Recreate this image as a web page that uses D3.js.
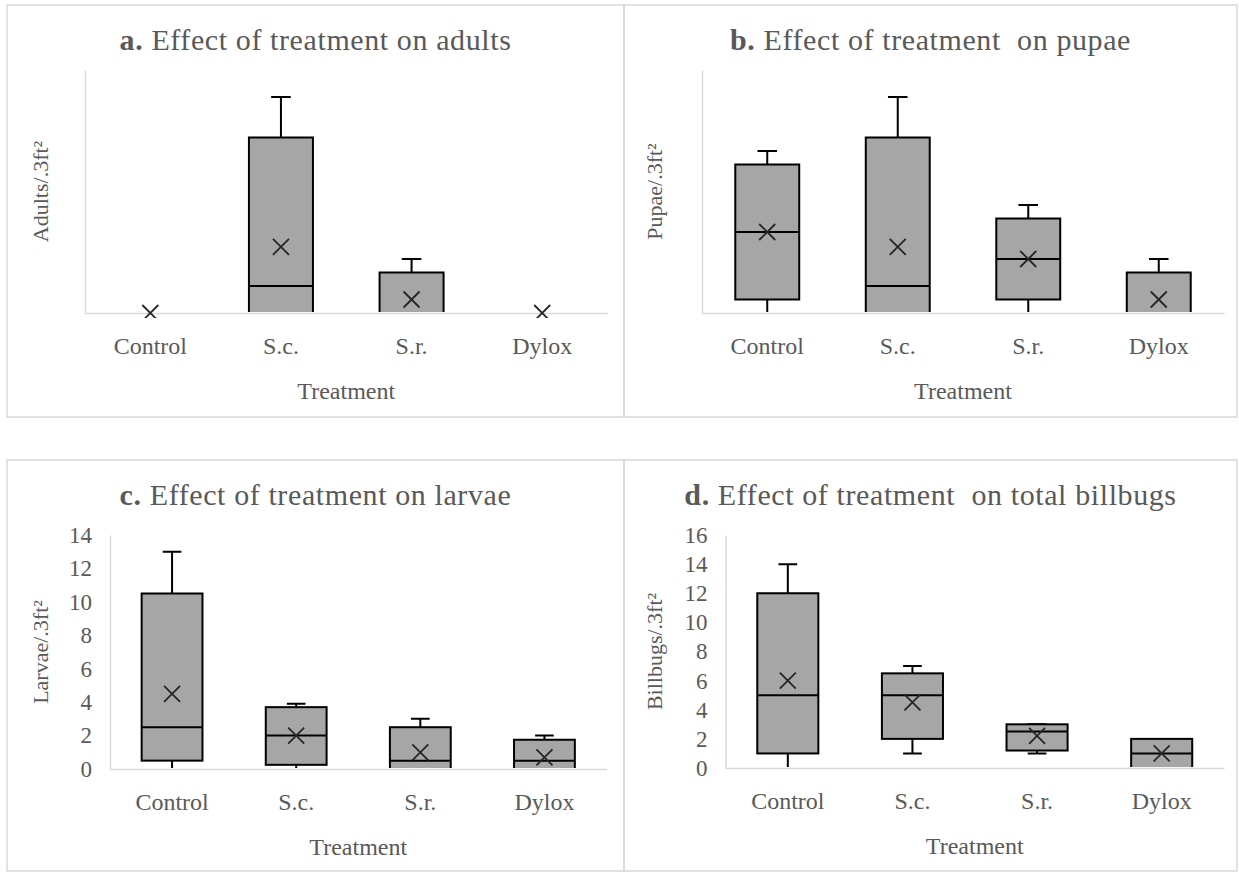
<!DOCTYPE html>
<html>
<head>
<meta charset="utf-8">
<script src="https://cdn.jsdelivr.net/npm/d3@7"></script>
<style>
    body { margin: 0; background: #fff; }
    #chart { width: 1239px; height: 872px; }
    text { font-family: "Liberation Serif", "Times New Roman", serif; fill: #595959; }
    .title { font-size: 30px; letter-spacing: 0.6px; }
    .tick text { font-size: 24px; }
    .yticks .tick text { font-size: 23px; }
    .axisLabel { font-size: 24px; }
    .yLabel { font-size: 22px; }
</style>
</head>
<body>
<div id="chart"></div>
<script>
// categories on the x axis
const categories = ["Control", "S.c.", "S.r.", "Dylox"];

// box values per treatment: [min, q1, median, q3, max]
const adultsBox = [[0, 0, 0, 0, 0], [0, 0, 1, 6.5, 8], [0, 0, 0, 1.5, 2], [0, 0, 0, 0, 0]];
const adultsMean = [0, 2.45, 0.5, 0];

const pupaeBox = [[0, 0.5, 3, 5.5, 6], [0, 0, 1, 6.5, 8], [0, 0.5, 2, 3.5, 4], [0, 0, 0, 1.5, 2]];
const pupaeMean = [3, 2.45, 2, 0.5];

const larvaeBox = [[0, 0.5, 2.5, 10.5, 13], [0, 0.25, 2, 3.7, 3.9], [0, 0, 0.5, 2.5, 3], [0, 0, 0.5, 1.75, 2]];
const larvaeMean = [4.5, 2, 1, 0.7];

const billbugsBox = [[0, 1, 5, 12, 14], [1, 2, 5, 6.5, 7], [1, 1.2, 2.5, 3, 3], [0, 0, 1, 2, 2]];
const billbugsMean = [6, 4.5, 2.2, 1];

// tick labels (top charts have no visible y ticks)
const larvaeTicks = [0, 2, 4, 6, 8, 10, 12, 14];
const billbugsTicks = [0, 2, 4, 6, 8, 10, 12, 14, 16];

const width = 1239;
const height = 872;

const svg = d3.select("#chart")
    .append("svg")
    .attr("width", width)
    .attr("height", height);

// layout of the four charts
const panels = [
    { letter: "a", title: "Effect of treatment on adults", yLabel: "Adults/.3ft²",
      box: adultsBox, mean: adultsMean, yMax: 9, ticks: [],
      x0: 7, y0: 5, x1: 624, y1: 417, left: 85, right: 607.5, top: 70, bottom: 313, labelX: 48 },
    { letter: "b", title: "Effect of treatment  on pupae", yLabel: "Pupae/.3ft²",
      box: pupaeBox, mean: pupaeMean, yMax: 9, ticks: [],
      x0: 624, y0: 5, x1: 1237, y1: 417, left: 702, right: 1224, top: 70, bottom: 313, labelX: 662 },
    { letter: "c", title: "Effect of treatment on larvae", yLabel: "Larvae/.3ft²",
      box: larvaeBox, mean: larvaeMean, yMax: 14, ticks: larvaeTicks,
      x0: 7, y0: 460, x1: 624, y1: 871, left: 110, right: 606.5, top: 535, bottom: 769, labelX: 48 },
    { letter: "d", title: "Effect of treatment  on total billbugs", yLabel: "Billbugs/.3ft²",
      box: billbugsBox, mean: billbugsMean, yMax: 16, ticks: billbugsTicks,
      x0: 624, y0: 460, x1: 1237, y1: 871, left: 725.5, right: 1224, top: 535, bottom: 768, labelX: 662 }
];

panels.forEach(function (p, k) {
    const g = svg.append("g");

    // chart border
    g.append("rect")
        .attr("x", p.x0)
        .attr("y", p.y0)
        .attr("width", p.x1 - p.x0)
        .attr("height", p.y1 - p.y0)
        .attr("fill", "none")
        .attr("stroke", "#d9d9d9")
        .attr("stroke-width", 1.5);

    const title = g.append("text")
        .attr("class", "title")
        .attr("x", (p.x0 + p.x1) / 2)
        .attr("y", p.y0 + 45)
        .attr("text-anchor", "middle")
        .attr("xml:space", "preserve");
    title.append("tspan").style("font-weight", "bold").text(p.letter + ". ");
    title.append("tspan").text(p.title);

    //scales
    const xScale = d3.scaleBand()
        .domain(categories)
        .range([p.left, p.right]);

    const yScale = d3.scaleLinear()
        .domain([0, p.yMax])
        .range([p.bottom, p.top]);

    const xAxis = g.append("g")
        .attr("transform", `translate(0,${p.bottom})`)
        .call(d3.axisBottom(xScale).tickSize(0).tickSizeOuter(0).tickPadding(24));

    const yAxis = g.append("g")
        .attr("class", "yticks")
        .attr("transform", `translate(${p.left},0)`)
        .call(d3.axisLeft(yScale).tickValues(p.ticks).tickSize(0).tickSizeOuter(0).tickPadding(18));

    g.selectAll(".domain")
        .attr("stroke", "#d9d9d9")
        .attr("stroke-width", 1.5);

    g.append("text")
        .attr("class", "axisLabel")
        .attr("x", (p.left + p.right) / 2)
        .attr("y", p.bottom + 86)
        .attr("text-anchor", "middle")
        .text("Treatment");

    g.append("text")
        .attr("class", "yLabel")
        .attr("transform", `translate(${p.labelX},${(p.top + p.bottom) / 2}) rotate(-90)`)
        .attr("text-anchor", "middle")
        .text(p.yLabel);

    // boxes are cut at the baseline, mean markers a little below it
    svg.append("clipPath")
        .attr("id", "clip" + k)
        .append("rect")
        .attr("x", p.left)
        .attr("y", p.y0)
        .attr("width", p.right - p.left)
        .attr("height", p.bottom - 1 - p.y0);

    svg.append("clipPath")
        .attr("id", "clipm" + k)
        .append("rect")
        .attr("x", p.left)
        .attr("y", p.y0)
        .attr("width", p.right - p.left)
        .attr("height", p.bottom + 5 - p.y0);

    const plot = g.append("g").attr("clip-path", `url(#clip${k})`);
    const marks = g.append("g").attr("clip-path", `url(#clipm${k})`);

    const bw = xScale.bandwidth() * 0.49;
    const cw = xScale.bandwidth() * 0.15;

    const data = categories.map((c, i) => ({
        cat: c,
        min: p.box[i][0], q1: p.box[i][1], med: p.box[i][2], q3: p.box[i][3], max: p.box[i][4],
        mean: p.mean[i]
    }));

    const boxes = plot.selectAll(".box")
        .data(data.filter(d => d.q3 > d.q1))
        .enter()
        .append("g")
        .attr("class", "box")
        .attr("transform", d => `translate(${xScale(d.cat) + xScale.bandwidth() / 2},0)`);

    // whiskers
    boxes.append("path")
        .attr("d", d => `M0,${yScale(d.max)}V${yScale(d.q3)}M${-cw / 2},${yScale(d.max)}H${cw / 2}` +
            `M0,${yScale(d.min)}V${yScale(d.q1)}M${-cw / 2},${yScale(d.min)}H${cw / 2}`)
        .attr("fill", "none")
        .attr("stroke", "#000")
        .attr("stroke-width", 2);

    boxes.append("rect")
        .attr("x", -bw / 2)
        .attr("y", d => yScale(d.q3))
        .attr("width", bw)
        .attr("height", d => yScale(d.q1) - yScale(d.q3))
        .attr("fill", "#a6a6a6")
        .attr("stroke", "#000")
        .attr("stroke-width", 2);

    boxes.append("line")
        .attr("x1", -bw / 2)
        .attr("x2", bw / 2)
        .attr("y1", d => yScale(d.med))
        .attr("y2", d => yScale(d.med))
        .attr("stroke", "#000")
        .attr("stroke-width", 2);

    // mean markers
    marks.selectAll(".mean")
        .data(data)
        .enter()
        .append("path")
        .attr("class", "mean")
        .attr("transform", d => `translate(${xScale(d.cat) + xScale.bandwidth() / 2},${yScale(d.mean)})`)
        .attr("d", "M-8,-8L8,8M-8,8L8,-8")
        .attr("stroke", "#262626")
        .attr("stroke-width", 1.8)
        .attr("fill", "none");
});
</script>
</body>
</html>
